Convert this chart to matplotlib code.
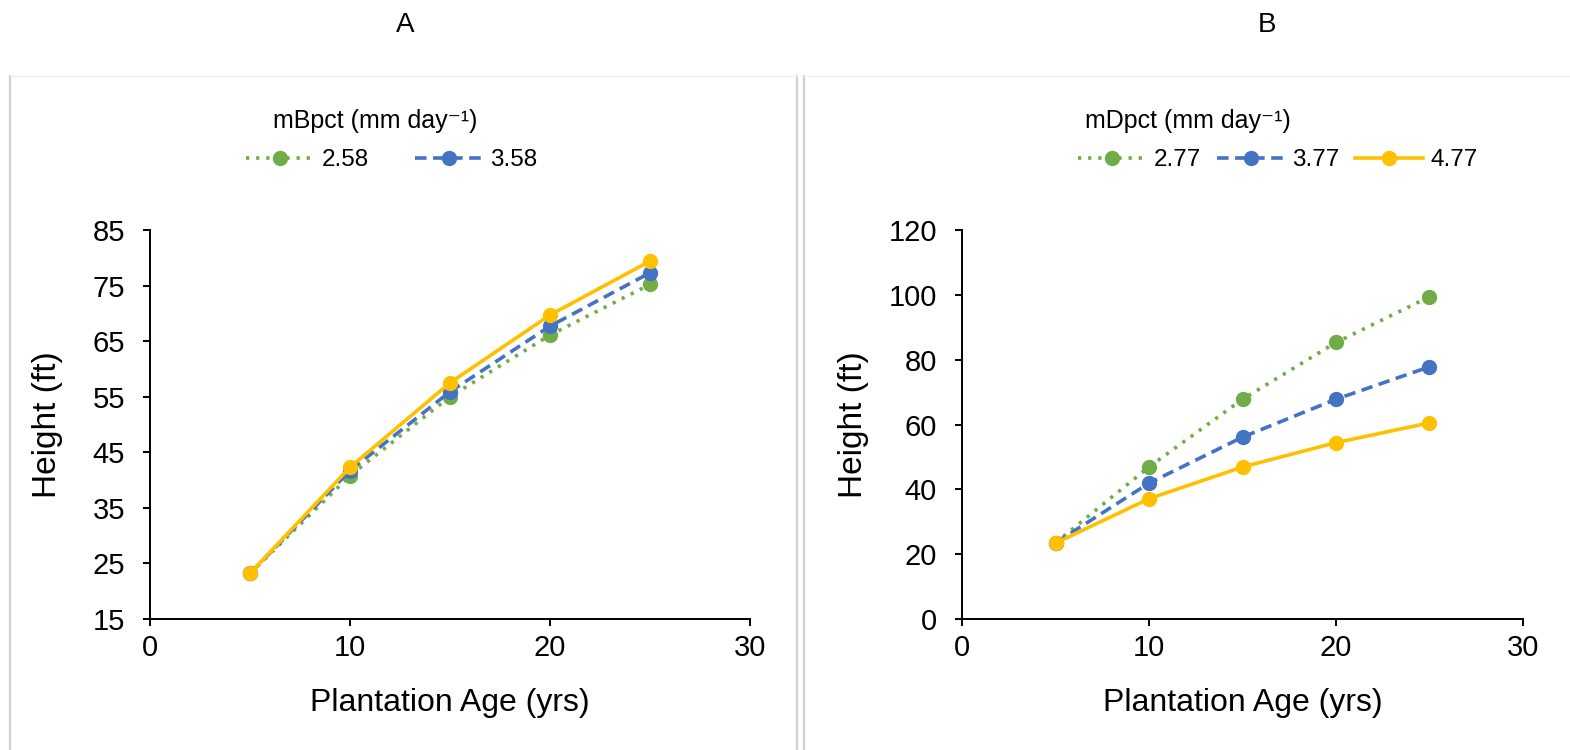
import matplotlib
matplotlib.use("Agg")
import matplotlib.pyplot as plt
from matplotlib.lines import Line2D

plt.rcParams['font.family'] = ['Liberation Sans', 'DejaVu Sans']

ages = [5, 10, 15, 20, 25]

# Panel A (mBpct)
a_labels = ["2.58", "3.58", "4.58"]
a_green = [23.2, 40.8, 55.0, 66.1, 75.2]
a_blue = [23.2, 41.7, 55.9, 67.7, 77.3]
a_yellow = [23.2, 42.3, 57.5, 69.7, 79.4]

# Panel B (mDpct)
b_labels = ["2.77", "3.77", "4.77"]
b_green = [23.5, 46.9, 67.8, 85.3, 99.4]
b_blue = [23.5, 41.9, 56.1, 67.8, 77.8]
b_yellow = [23.4, 37.1, 46.9, 54.4, 60.5]

GREEN = "#70ad47"
BLUE = "#4472c4"
YELLOW = "#ffc000"

W, H = 1570, 750
fig = plt.figure(figsize=(15.7, 7.5), dpi=100)

def fx(x):
    return x / W

def fy(y):
    return 1 - y / H

# panel borders
for x in (10, 797, 804):
    fig.add_artist(Line2D([fx(x), fx(x)], [fy(76), fy(760)], transform=fig.transFigure,
                          color="#d0d0d0", linewidth=1.6))
for x0, x1 in ((10, 797), (804, 1575)):
    fig.add_artist(Line2D([fx(x0), fx(x1)], [fy(76), fy(76)], transform=fig.transFigure,
                          color="#f0f0f0", linewidth=1.0))

axA = fig.add_axes([fx(150), fy(619), 600 / W, 389 / H])
axB = fig.add_axes([fx(962), fy(619), 561 / W, 389 / H])

styles = [
    dict(color=GREEN, linestyle=(0, (0.9, 1.9)), linewidth=2.6),
    dict(color=BLUE, linestyle=(0, (3.2, 1.8)), linewidth=2.6),
    dict(color=YELLOW, linestyle="-", linewidth=2.6),
]

def draw(ax, series, labels, ylim, yticks, nleg, title, title_xy, leg_xy, colsp, ylab_x):
    handles = []
    for s, lab, st in zip(series, labels, styles):
        h, = ax.plot(ages, s, marker="o", markersize=10, label=lab,
                     markeredgecolor=st["color"], markerfacecolor=st["color"], **st)
        handles.append(h)
    ax.set_xlim(0, 30)
    ax.set_ylim(*ylim)
    ax.set_xticks([0, 10, 20, 30])
    ax.set_yticks(yticks)
    for sp in ["top", "right"]:
        ax.spines[sp].set_visible(False)
    for sp in ["left", "bottom"]:
        ax.spines[sp].set_linewidth(1.4)
    ax.tick_params(axis="both", labelsize=21, width=1.4, length=5, direction="out")
    ax.tick_params(axis="y", pad=13)
    ax.tick_params(axis="x", pad=6)
    ax.set_xlabel("Plantation Age (yrs)", fontsize=23)
    ax.set_ylabel("Height (ft)", fontsize=24)
    ax.xaxis.set_label_coords(0.5, -0.178)
    ax.yaxis.set_label_coords(ylab_x, 0.5)
    fig.text(fx(title_xy[0]), fy(title_xy[1]), title, fontsize=18,
             ha="center", va="center")
    fig.legend(handles=handles[:nleg], loc="center",
               bbox_to_anchor=(fx(leg_xy[0]), fy(leg_xy[1])), ncol=nleg, frameon=False,
               fontsize=17.5, handlelength=2.8, columnspacing=colsp,
               handletextpad=0.3, borderpad=0, borderaxespad=0)

draw(axA, [a_green, a_blue, a_yellow], a_labels, (15, 85),
     [15, 25, 35, 45, 55, 65, 75, 85], 2, "mBpct (mm day\u207b\u00b9)",
     (375, 121), (392, 160), 1.9, -0.145)
draw(axB, [b_green, b_blue, b_yellow], b_labels, (0, 120),
     [0, 20, 40, 60, 80, 100, 120], 3, "mDpct (mm day\u207b\u00b9)",
     (1188, 121), (1278, 160), 0.65, -0.165)

fig.text(fx(405), fy(25), "A", fontsize=20, ha="center", va="center")
fig.text(fx(1267), fy(25), "B", fontsize=20, ha="center", va="center")

fig.savefig("out.png", dpi=100)
